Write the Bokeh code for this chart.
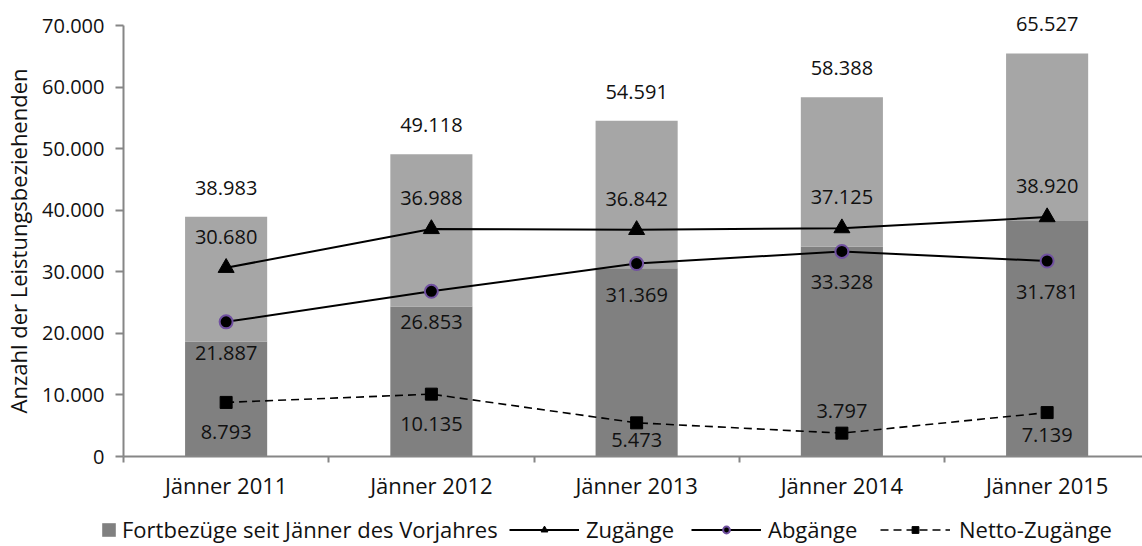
from bokeh.plotting import figure
from bokeh.models import ColumnDataSource, Range1d, FixedTicker, Legend, LegendItem
from bokeh.core.properties import value
from bokeh.embed import file_html
from bokeh.resources import INLINE

# ---------------- data ----------------
categories = ["Jänner 2011", "Jänner 2012", "Jänner 2013", "Jänner 2014", "Jänner 2015"]
totals = [38983, 49118, 54591, 58388, 65527]
fortbezuege = [18700, 24400, 30600, 34100, 38300]
zugaenge = [30680, 36988, 36842, 37125, 38920]
abgaenge = [21887, 26853, 31369, 33328, 31781]
netto = [8793, 10135, 5473, 3797, 7139]
y_ticks = [0, 10000, 20000, 30000, 40000, 50000, 60000, 70000]

# ---------------- layout / style ----------------
netto_label_offsets = [30, 30, 17, -22, 22]
FONT = value("Open Sans")
FS = "20px"
TXT = "#111111"
AXIS_COL = "#868686"
DARK = "#808080"
LIGHT = "#a6a6a6"
CIRC_OUT = "#7050a0"

W, H = 1142, 546
AX_X, AX_Y = 123, 456          # pixel position of the axes corner
PX_PER_CAT = 205.25
PX_PER_UNIT_Y = 430.6 / 70000


def fmt(v):
    return f"{v:,}".replace(",", ".")


xs = list(range(len(categories)))
src = ColumnDataSource(dict(
    x=xs,
    total=totals,
    fort=fortbezuege,
    zu=zugaenge,
    ab=abgaenge,
    net=netto,
    total_lbl=[fmt(v) for v in totals],
    zu_lbl=[fmt(v) for v in zugaenge],
    ab_lbl=[fmt(v) for v in abgaenge],
    net_lbl=[fmt(v) for v in netto],
    net_off=netto_label_offsets,
))

x0 = -0.5 - AX_X / PX_PER_CAT
y0 = -(H - AX_Y) / PX_PER_UNIT_Y
p = figure(width=W, height=H, output_backend="svg", toolbar_location=None,
           x_range=Range1d(x0, x0 + W / PX_PER_CAT),
           y_range=Range1d(y0, y0 + H / PX_PER_UNIT_Y),
           min_border=0)
p.outline_line_color = None
p.xgrid.visible = False
p.ygrid.visible = False
p.background_fill_color = "white"
p.border_fill_color = "white"

dark = p.vbar(x="x", bottom=0, top="fort", width=0.4, source=src,
              fill_color=DARK, line_color=None)
p.vbar(x="x", bottom="fort", top="total", width=0.4, source=src,
       fill_color=LIGHT, line_color=None)
zl = p.line(x="x", y="zu", source=src, line_color="black", line_width=2)
zm = p.scatter(x="x", y="zu", source=src, marker="triangle", size=16,
               fill_color="black", line_color="black")
al = p.line(x="x", y="ab", source=src, line_color="black", line_width=2)
am = p.scatter(x="x", y="ab", source=src, marker="circle", size=13,
               fill_color="black", line_color=CIRC_OUT, line_width=2)
nl = p.line(x="x", y="net", source=src, line_color="black", line_width=1.6, line_dash="8 5")
nm = p.scatter(x="x", y="net", source=src, marker="square", size=12,
               fill_color="black", line_color="black")

# data labels
common = dict(source=src, text_align="center", text_baseline="middle",
              text_font=FONT, text_font_size=FS, text_color=TXT)
p.text(x="x", y="total", text="total_lbl", y_offset=-29, **common)
p.text(x="x", y="zu", text="zu_lbl", y_offset=-31, **common)
p.text(x="x", y="ab", text="ab_lbl", y_offset=31, **common)
p.text(x="x", y="net", text="net_lbl", y_offset="net_off", **common)

# axes (fixed inside the frame)
xa = p.xaxis[0]
xa.fixed_location = 0
xa.bounds = (-0.5, p.x_range.end)
xa.ticker = FixedTicker(ticks=xs, minor_ticks=[i - 0.5 for i in range(len(xs) + 1)])
xa.major_label_overrides = {i: c for i, c in enumerate(categories)}
xa.major_tick_out = 0
xa.major_tick_in = 0
xa.minor_tick_out = 6
xa.minor_tick_in = 0
xa.minor_tick_line_color = AXIS_COL
xa.minor_tick_line_width = 2
xa.axis_line_color = AXIS_COL
xa.axis_line_width = 2
xa.major_label_standoff = 7
xa.major_label_text_font = "Open Sans"
xa.major_label_text_font_size = "22px"
xa.major_label_text_color = TXT

ya = p.yaxis[0]
ya.fixed_location = -0.5
ya.bounds = (0, 70000)
ya.ticker = FixedTicker(ticks=y_ticks)
ya.major_label_overrides = {t: fmt(t) for t in y_ticks}
ya.major_tick_out = 8
ya.major_tick_in = 0
ya.minor_tick_out = 0
ya.minor_tick_in = 0
ya.major_tick_line_color = AXIS_COL
ya.major_tick_line_width = 2
ya.axis_line_color = AXIS_COL
ya.axis_line_width = 2
ya.major_label_standoff = 11
ya.major_label_text_font = "Open Sans"
ya.major_label_text_font_size = FS
ya.major_label_text_color = TXT
ya.axis_label = "Anzahl der Leistungsbeziehenden"
ya.axis_label_text_font = "Open Sans"
ya.axis_label_text_font_size = "22px"
ya.axis_label_text_font_style = "normal"
ya.axis_label_text_color = TXT
ya.axis_label_standoff = 6


def add_legend(items, loc, gw, standoff):
    lg = Legend(items=items, location=loc, orientation="horizontal",
                glyph_width=gw, glyph_height=17, label_height=17,
                label_standoff=standoff, padding=0, margin=0, spacing=0,
                border_line_color=None, background_fill_alpha=0,
                label_text_font="Open Sans", label_text_font_size="22px",
                label_text_color=TXT)
    p.add_layout(lg, "center")


add_legend([LegendItem(label="Fortbezüge seit Jänner des Vorjahres", renderers=[dark])], (100, 2), 17, 5)
add_legend([LegendItem(label="Zugänge", renderers=[zl, zm])], (509, 2), 70, 7)
add_legend([LegendItem(label="Abgänge", renderers=[al, am])], (691, 2), 70, 7)
add_legend([LegendItem(label="Netto-Zugänge", renderers=[nl, nm])], (880, 2), 70, 9)

open("out.html", "w").write(file_html(p, INLINE))
